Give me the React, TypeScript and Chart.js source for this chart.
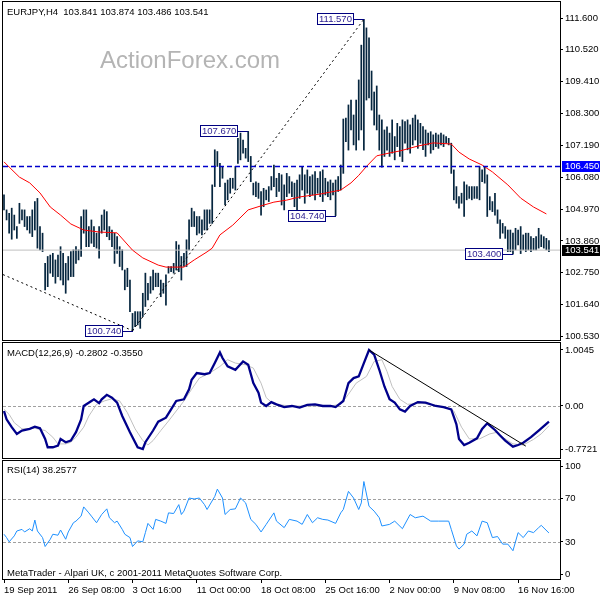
import React, { useEffect, useRef } from "react";
import { Chart, registerables } from "chart.js";

Chart.register(...registerables);

const FONT = '"Liberation Sans", Arial, sans-serif';
const FS = 9.5;

const titleText = "EURJPY,H4  103.841 103.874 103.486 103.541";
const macdTitle = "MACD(12,26,9) -0.2802 -0.3550";
const rsiTitle = "RSI(14) 38.2577";
const footerText = "MetaTrader - Alpari UK, c 2001-2011 MetaQuotes Software Corp.";
const watermark = "ActionForex.com";

const dateTickIdx = [0, 25, 50, 75, 100, 125, 150, 175, 200];
const dateLabels = ["19 Sep 2011", "26 Sep 08:00", "3 Oct 16:00", "11 Oct 00:00", "18 Oct 08:00", "25 Oct 16:00", "2 Nov 00:00", "9 Nov 08:00", "16 Nov 16:00"];

const priceTicks = [100.53, 101.64, 102.75, 103.86, 104.97, 106.08, 107.19, 108.3, 109.41, 110.52, 111.6];
const macdTicks = [-0.7721, 0, 1.0045];
const macdTickLabels = ["-0.7721", "0.00", "1.0045"];
const rsiTicks = [0, 30, 70, 100];
const rsiLevels = [30, 70];
const macdZero = 0;

const levelPrice = 106.45;
const bidPrice = 103.541;

const barHigh = [
  105.46, 104.94, 104.82, 105.0, 104.76, 104.36, 105.17, 104.94, 104.94, 104.71,
  104.71, 104.94, 105.23, 105.34, 104.36, 104.13, 103.08, 103.32, 103.37, 103.43,
  103.2, 103.37, 103.66, 103.43, 103.08, 103.32, 103.49, 103.55, 103.66, 103.55,
  104.71, 104.94, 104.94, 104.36, 104.59, 104.36, 104.13, 104.36, 104.76, 104.94,
  104.88, 104.36, 104.24, 104.13, 104.01, 103.66, 103.55, 102.85, 102.91, 102.5,
  101.34, 101.4, 101.4, 101.4, 102.04, 102.74, 102.39, 102.62, 102.85, 102.74,
  102.74, 102.5, 102.39, 102.68, 102.97, 102.97, 103.08, 103.84, 103.72, 103.32,
  103.43, 103.9, 104.59, 105.0, 104.88, 104.71, 104.71, 104.59, 104.94, 104.94,
  104.94, 105.81, 107.03, 106.97, 106.56, 106.45, 105.87, 105.98, 106.04, 106.04,
  106.45, 107.43, 107.61, 107.37, 107.08, 107.67, 106.8, 105.87, 105.92, 105.87,
  105.58, 105.69, 105.63, 105.75, 106.1, 106.5, 106.04, 106.21, 106.16, 105.81,
  106.21, 106.1, 105.92, 105.87, 105.98, 106.16, 106.45, 106.16, 106.33, 106.1,
  106.16, 106.27, 106.04, 106.27, 106.33, 106.04, 105.92, 105.98, 105.87, 105.98,
  106.1, 106.5, 108.1, 108.13, 108.59, 108.76, 108.24, 108.76, 109.46, 110.67,
  111.57, 111.27, 110.92, 109.77, 109.04, 109.25, 108.24, 108.07, 107.72, 107.83,
  107.61, 108.07, 107.49, 107.95, 107.84, 108.07, 108.01, 108.07, 107.9, 108.13,
  108.24, 108.07, 107.95, 107.84, 107.72, 107.61, 107.66, 107.55, 107.61, 107.55,
  107.61, 107.55, 107.49, 107.43, 107.26, 106.33, 105.75, 105.4, 105.52, 105.92,
  105.81, 105.75, 105.75, 105.75, 105.75, 106.45, 106.33, 106.45, 106.16, 105.4,
  105.23, 105.52, 104.94, 104.59, 104.47, 104.36, 104.24, 104.24, 104.13, 104.3,
  104.24, 104.36, 104.07, 104.13, 104.13, 104.01, 103.95, 104.01, 104.3, 104.07,
  104.01, 103.95, 103.874
];

const barLow = [
  104.94, 104.59, 104.13, 103.92, 104.24, 103.95, 104.47, 104.59, 104.36, 104.24,
  104.13, 104.01, 104.24, 103.61, 103.55, 103.49, 102.16, 102.27, 102.74, 102.62,
  102.39, 102.62, 102.5, 102.33, 102.04, 102.5, 102.62, 102.62, 103.08, 103.2,
  103.32, 104.13, 103.66, 103.66, 103.78, 103.66, 103.61, 103.26, 104.13, 104.24,
  104.01, 103.9, 103.66, 103.08, 103.43, 102.97, 102.85, 102.16, 102.27, 101.4,
  100.74, 100.88, 100.94, 100.82, 101.23, 101.58, 101.81, 102.04, 102.16, 102.27,
  102.27, 101.92, 102.04, 101.63, 102.74, 102.79, 102.74, 102.85, 102.79, 102.5,
  102.97, 102.97, 103.55, 104.36, 104.36, 104.07, 104.13, 104.07, 104.24, 104.24,
  104.47, 104.47, 105.75, 106.45, 105.75, 106.04, 105.11, 105.29, 105.52, 105.69,
  105.63, 106.56, 106.68, 106.91, 106.74, 106.62, 105.92, 105.46, 105.4, 105.34,
  104.76, 105.05, 105.29, 105.23, 105.63, 105.75, 105.4, 105.58, 105.11, 104.94,
  105.4, 105.52, 105.4, 105.05, 104.94, 105.34, 105.63, 105.17, 105.52, 105.4,
  105.46, 105.29, 105.52, 105.4, 105.23, 105.46, 105.4, 105.29, 105.46, 104.74,
  105.58, 105.63, 106.21, 107.31, 107.02, 107.72, 107.2, 107.02, 107.37, 107.72,
  107.02, 108.76, 108.83, 108.41, 107.89, 107.72, 107.02, 106.43, 106.8, 107.02,
  106.8, 106.91, 106.68, 107.14, 106.8, 106.62, 107.26, 107.03, 106.91, 107.2,
  107.37, 107.08, 107.26, 107.03, 106.8, 107.2, 106.91, 107.03, 107.14, 107.08,
  107.2, 107.14, 107.26, 107.2, 106.21, 105.29, 105.17, 105.0, 105.17, 104.71,
  105.29, 105.34, 105.29, 105.34, 105.34, 105.29, 105.92, 105.87, 104.71, 104.94,
  104.88, 104.76, 104.47, 103.95, 104.13, 103.95, 103.49, 103.49, 103.4, 103.55,
  103.72, 103.42, 103.55, 103.49, 103.55, 103.49, 103.55, 103.55, 103.61, 103.66,
  103.61, 103.55, 103.486
];

const maIdx = [0, 2, 6, 10, 14, 18, 22, 26, 31, 37, 44, 50, 54, 60, 63, 70, 74, 79, 81, 84, 89, 95, 100, 105, 110, 115, 123, 131, 135, 138, 141, 145, 150, 154, 161, 167, 174, 177, 181, 186, 190, 196, 201, 206, 211];
const maVal = [106.61, 106.43, 106.08, 105.88, 105.53, 105.04, 104.76, 104.45, 104.24, 104.17, 104.14, 103.54, 103.27, 103.02, 102.95, 102.95, 103.2, 103.48, 103.61, 104.07, 104.41, 104.94, 105.08, 105.21, 105.28, 105.39, 105.49, 105.63, 105.88, 106.14, 106.45, 106.82, 106.92, 106.99, 107.16, 107.27, 107.23, 106.95, 106.71, 106.5, 106.26, 105.81, 105.35, 105.04, 104.8];

const trendAIdx = [-0.39, 50];
const trendAVal = [102.69, 100.74];
const trendBIdx = [50, 140];
const trendBVal = [100.74, 111.57];

const labelIdx = [140, 95, 129, 50, 198];
const labelPrice = [111.57, 107.67, 104.74, 100.74, 103.4];

const macdIdx = [0, 1, 3, 5, 7, 10, 12, 14, 16, 17, 19, 21, 22, 24, 26, 28, 30, 31, 34, 35, 37, 38, 40, 42, 44, 46, 49, 52, 54, 55, 58, 60, 63, 65, 67, 70, 72, 73, 75, 78, 80, 82, 84, 85, 87, 90, 93, 95, 97, 99, 100, 102, 104, 106, 109, 112, 115, 118, 121, 124, 127, 129, 132, 134, 136, 138, 140, 142, 144, 146, 148, 150, 152, 154, 156, 158, 161, 164, 168, 171, 174, 176, 177, 179, 181, 184, 186, 188, 191, 193, 195, 198, 200, 202, 205, 208, 210, 212];
const macdVal = [-0.09, -0.24, -0.38, -0.5, -0.44, -0.41, -0.37, -0.4, -0.59, -0.74, -0.74, -0.71, -0.59, -0.65, -0.62, -0.47, -0.24, 0.0, 0.09, 0.12, 0.05, 0.12, 0.2, 0.15, 0.06, -0.18, -0.47, -0.74, -0.7721, -0.65, -0.44, -0.28, -0.21, -0.06, 0.09, 0.12, 0.3, 0.47, 0.59, 0.57, 0.59, 0.77, 0.96, 0.86, 0.71, 0.65, 0.8, 0.74, 0.41, 0.24, 0.06, 0.0, 0.07, 0.03, -0.02, 0.0, -0.03, 0.02, 0.03, 0.0, 0.0, -0.02, 0.09, 0.41, 0.5, 0.53, 0.77, 1.0045, 0.92, 0.65, 0.35, 0.12, 0.06, -0.06, -0.1, 0.0, 0.07, 0.06, 0.0, -0.02, -0.06, -0.33, -0.59, -0.7, -0.66, -0.58, -0.41, -0.31, -0.43, -0.53, -0.62, -0.73, -0.7, -0.66, -0.56, -0.44, -0.36, -0.2802];

const sigIdx = [0, 2, 4, 7, 12, 16, 19, 21, 24, 26, 28, 31, 33, 36, 39, 42, 45, 48, 51, 54, 56, 58, 61, 64, 67, 70, 73, 76, 80, 84, 87, 90, 94, 97, 100, 102, 105, 112, 127, 131, 134, 137, 141, 144, 147, 149, 151, 154, 157, 162, 166, 172, 175, 178, 181, 185, 189, 192, 194, 198, 202, 206, 209, 212];
const sigVal = [-0.06, -0.15, -0.3, -0.41, -0.4, -0.44, -0.56, -0.68, -0.68, -0.65, -0.56, -0.38, -0.18, 0.03, 0.09, 0.13, 0.09, -0.12, -0.41, -0.62, -0.7, -0.62, -0.44, -0.27, -0.09, 0.09, 0.3, 0.5, 0.59, 0.71, 0.83, 0.77, 0.74, 0.68, 0.41, 0.15, 0.03, 0.0, 0.0, 0.03, 0.21, 0.41, 0.53, 0.8, 0.83, 0.62, 0.35, 0.12, 0.03, 0.05, 0.03, -0.03, -0.09, -0.38, -0.59, -0.59, -0.5, -0.47, -0.56, -0.68, -0.7, -0.6, -0.5, -0.355];

const macdTrendIdx = [142, 203];
const macdTrendVal = [1.0045, -0.72];

const rsiIdx = [0, 1, 2, 4, 5, 7, 8, 10, 11, 12, 13, 15, 16, 18, 19, 21, 22, 24, 25, 27, 28, 30, 31, 33, 34, 36, 38, 40, 41, 43, 44, 46, 47, 49, 50, 52, 54, 55, 56, 58, 59, 61, 63, 64, 66, 68, 69, 70, 72, 74, 76, 78, 79, 82, 83, 85, 86, 88, 90, 92, 94, 96, 98, 100, 102, 105, 106, 109, 111, 114, 116, 118, 120, 122, 124, 126, 129, 131, 132, 134, 136, 138, 139, 140, 142, 144, 146, 147, 150, 152, 155, 158, 160, 163, 166, 169, 173, 174, 176, 177, 179, 180, 182, 184, 186, 188, 190, 192, 194, 196, 198, 200, 202, 204, 206, 208, 209, 212];
const rsiVal = [37.1, 34.0, 30.1, 35.6, 40.1, 41.6, 39.2, 42.2, 40.1, 50.2, 40.1, 34.0, 25.8, 32.5, 37.1, 36.2, 41.0, 32.5, 39.2, 47.7, 49.2, 53.8, 62.3, 56.8, 53.8, 47.7, 55.3, 60.5, 52.3, 47.7, 49.2, 41.6, 37.1, 34.0, 25.8, 31.0, 30.1, 38.6, 47.1, 41.6, 50.8, 49.2, 47.1, 56.8, 56.2, 64.4, 55.3, 58.4, 70.5, 69.6, 70.5, 64.4, 59.9, 72.0, 78.7, 70.5, 55.3, 59.9, 60.5, 70.5, 66.0, 50.8, 46.2, 39.2, 46.2, 56.8, 49.2, 43.2, 50.8, 49.2, 46.2, 55.3, 47.7, 52.3, 50.8, 50.2, 47.1, 56.8, 59.9, 76.6, 70.5, 59.9, 66.0, 85.7, 62.9, 58.4, 52.3, 44.7, 46.2, 49.2, 42.2, 55.3, 52.3, 53.8, 49.2, 49.2, 49.2, 41.6, 26.4, 23.4, 28.0, 37.1, 40.1, 35.6, 49.2, 47.7, 34.0, 35.0, 28.0, 28.0, 21.9, 38.6, 34.0, 40.1, 38.6, 43.2, 45.3, 38.26];

const X_MIN = -0.39;
const X_MAX = 216.3;

const pts = (xs: number[], ys: number[]) => xs.map((x, i) => ({ x, y: ys[i] }));

const zeroPad = (s: any) => {
  s.paddingTop = 0;
  s.paddingBottom = 0;
  s.paddingLeft = 0;
  s.paddingRight = 0;
};

const yAxis = (min: number, max: number, ticks: number[], fmt: (v: number, i: number) => string) => ({
  type: "linear",
  position: "right",
  min,
  max,
  afterFit: (s: any) => {
    s.width = 40;
    zeroPad(s);
  },
  afterBuildTicks: (s: any) => {
    s.ticks = ticks.map((v) => ({ value: v }));
  },
  ticks: {
    autoSkip: false,
    padding: 2,
    color: "#000",
    font: { family: FONT, size: FS },
    callback: (v: any, i: number) => fmt(Number(v), i),
  },
  grid: { drawOnChartArea: false, drawTicks: true, tickLength: 3, color: "#000" },
  border: { display: false },
});

const hiddenX = {
  type: "linear",
  min: X_MIN,
  max: X_MAX,
  offset: false,
  display: false,
};

const frame = (ctx: CanvasRenderingContext2D, a: any) => {
  ctx.save();
  ctx.strokeStyle = "#000";
  ctx.lineWidth = 1;
  ctx.strokeRect(a.left - 0.5, a.top - 0.5, a.right - a.left + 1, a.bottom - a.top + 1);
  ctx.restore();
};

const hLine = (chart: any, value: number, color: string, dash: number[]) => {
  const ctx = chart.ctx;
  const a = chart.chartArea;
  const y = Math.round(chart.scales.y.getPixelForValue(value)) + 0.5;
  ctx.save();
  ctx.strokeStyle = color;
  ctx.lineWidth = 1;
  ctx.setLineDash(dash);
  ctx.beginPath();
  ctx.moveTo(a.left, y);
  ctx.lineTo(a.right, y);
  ctx.stroke();
  ctx.restore();
};

const text = (ctx: CanvasRenderingContext2D, t: string, x: number, y: number) => {
  ctx.save();
  ctx.font = `${FS}px ${FONT}`;
  ctx.fillStyle = "#000";
  ctx.textBaseline = "middle";
  ctx.textAlign = "left";
  ctx.fillText(t, x, y);
  ctx.restore();
};

const baseOpts = {
  responsive: false,
  animation: false,
  events: [],
  plugins: { legend: { display: false }, tooltip: { enabled: false } },
};

export default function App() {
  const mainRef = useRef<HTMLCanvasElement>(null);
  const macdRef = useRef<HTMLCanvasElement>(null);
  const rsiRef = useRef<HTMLCanvasElement>(null);

  useEffect(() => {
    const charts: Chart[] = [];

    const mainPlugin = {
      id: "mainDeco",
      beforeDatasetsDraw(chart: any) {
        const ctx = chart.ctx;
        ctx.save();
        ctx.font = `24px ${FONT}`;
        ctx.fillStyle = "#B4B4B4";
        ctx.textBaseline = "alphabetic";
        ctx.fillText(watermark, 100, 68);
        ctx.restore();
      },
      afterDatasetsDraw(chart: any) {
        const ctx = chart.ctx;
        const xs = chart.scales.x;
        const ys = chart.scales.y;
        ctx.save();
        ctx.font = `${FS}px ${FONT}`;
        labelIdx.forEach((idx, k) => {
          const px = Math.round(xs.getPixelForValue(idx));
          const py = Math.round(ys.getPixelForValue(labelPrice[k]));
          const t = labelPrice[k].toFixed(3);
          const tw = ctx.measureText(t).width;
          const right = px - 10;
          const left = right - Math.round(tw + 4);
          const top = py - 6;
          ctx.fillStyle = "#fff";
          ctx.fillRect(left, top, right - left, 12);
          ctx.strokeStyle = "#000080";
          ctx.lineWidth = 1;
          ctx.strokeRect(left + 0.5, top + 0.5, right - left - 1, 11);
          ctx.beginPath();
          ctx.moveTo(right, py + 0.5);
          ctx.lineTo(px, py + 0.5);
          ctx.stroke();
          ctx.fillStyle = "#2A1C8F";
          ctx.textBaseline = "middle";
          ctx.fillText(t, left + 2, top + 6.5);
        });
        ctx.restore();
      },
      afterDraw(chart: any) {
        const ctx = chart.ctx;
        const a = chart.chartArea;
        frame(ctx, a);
        text(ctx, titleText, 7, 12);
        const badge = (v: number, bg: string) => {
          const y = Math.round(chart.scales.y.getPixelForValue(v));
          ctx.save();
          ctx.fillStyle = bg;
          ctx.fillRect(a.right + 2, y - 5, 38, 11);
          ctx.font = `${FS}px ${FONT}`;
          ctx.fillStyle = "#fff";
          ctx.textBaseline = "middle";
          ctx.fillText(v.toFixed(3), a.right + 5, y + 0.5);
          ctx.restore();
        };
        badge(levelPrice, "#0000FF");
        badge(bidPrice, "#000");
      },
    };

    charts.push(
      new Chart(mainRef.current as HTMLCanvasElement, {
        type: "bar",
        data: {
          datasets: [
            { type: "line", data: pts(trendAIdx, trendAVal), borderColor: "#000", borderWidth: 1, borderDash: [2, 3], pointRadius: 0, order: 0 },
            { type: "line", data: pts(trendBIdx, trendBVal), borderColor: "#000", borderWidth: 1, borderDash: [2, 3], pointRadius: 0, order: 0 },
            { type: "line", data: pts([X_MIN, X_MAX], [levelPrice, levelPrice]), borderColor: "#0000CC", borderWidth: 1.5, borderDash: [5, 3], pointRadius: 0, order: 1 },
            { type: "line", data: pts(maIdx, maVal), borderColor: "#FF0000", borderWidth: 1, pointRadius: 0, tension: 0, order: 2 },
            { type: "line", data: pts([X_MIN, X_MAX], [bidPrice, bidPrice]), borderColor: "#C0C0C0", borderWidth: 1, pointRadius: 0, order: 3 },
            {
              type: "bar",
              data: barHigh.map((h, i) => ({ x: i, y: [barLow[i], h] })),
              backgroundColor: "#06263F",
              borderWidth: 0,
              barThickness: 1.05,
              order: 4,
            },
          ],
        },
        options: {
          ...baseOpts,
          layout: { padding: { left: 3, top: 2, right: 0, bottom: 1 } },
          scales: {
            x: hiddenX,
            y: yAxis(100.415, 112.17, priceTicks, (v) => v.toFixed(3)),
          },
        } as any,
        plugins: [mainPlugin],
      } as any)
    );

    const macdPlugin = {
      id: "macdDeco",
      beforeDatasetsDraw(chart: any) {
        hLine(chart, macdZero, "#A0A0A0", [3, 2]);
      },
      afterDraw(chart: any) {
        frame(chart.ctx, chart.chartArea);
        text(chart.ctx, macdTitle, 7, 12);
      },
    };

    charts.push(
      new Chart(macdRef.current as HTMLCanvasElement, {
        type: "line",
        data: {
          datasets: [
            { data: pts(macdTrendIdx, macdTrendVal), borderColor: "#000", borderWidth: 1, pointRadius: 0, order: 0 },
            { data: pts(macdIdx, macdVal), borderColor: "#00008B", borderWidth: 2.3, pointRadius: 0, tension: 0, order: 1 },
            { data: pts(sigIdx, sigVal), borderColor: "#C0C0C0", borderWidth: 1, pointRadius: 0, tension: 0, order: 2 },
          ],
        },
        options: {
          ...baseOpts,
          layout: { padding: { left: 3, top: 2, right: 0, bottom: 2 } },
          scales: {
            x: hiddenX,
            y: yAxis(-0.933, 1.13, macdTicks, (_v, i) => macdTickLabels[i]),
          },
        } as any,
        plugins: [macdPlugin],
      } as any)
    );

    const rsiPlugin = {
      id: "rsiDeco",
      beforeDatasetsDraw(chart: any) {
        rsiLevels.forEach((lv) => hLine(chart, lv, "#A0A0A0", [3, 2]));
      },
      afterDraw(chart: any) {
        frame(chart.ctx, chart.chartArea);
        text(chart.ctx, rsiTitle, 7, 10);
        text(chart.ctx, footerText, 7, 113);
      },
    };

    charts.push(
      new Chart(rsiRef.current as HTMLCanvasElement, {
        type: "line",
        data: {
          datasets: [
            { data: pts(rsiIdx, rsiVal), borderColor: "#1E90FF", borderWidth: 1, pointRadius: 0, tension: 0 },
          ],
        },
        options: {
          ...baseOpts,
          layout: { padding: { left: 3, top: 1, right: 0, bottom: 0 } },
          scales: {
            x: {
              type: "linear",
              position: "bottom",
              min: X_MIN,
              max: X_MAX,
              offset: false,
              afterFit: (s: any) => {
                s.height = 21;
                zeroPad(s);
              },
              afterBuildTicks: (s: any) => {
                s.ticks = dateTickIdx.map((v) => ({ value: v }));
              },
              ticks: {
                autoSkip: false,
                maxRotation: 0,
                minRotation: 0,
                align: "start",
                padding: 2,
                color: "#000",
                font: { family: FONT, size: FS },
                callback: (_v: any, i: number) => dateLabels[i],
              },
              grid: { drawOnChartArea: false, drawTicks: true, tickLength: 4, color: "#000" },
              border: { display: false },
            },
            y: yAxis(-4.15, 104.61, rsiTicks, (v) => String(v)),
          },
        } as any,
        plugins: [rsiPlugin],
      } as any)
    );

    return () => charts.forEach((c) => c.destroy());
  }, []);

  const cv = (top: number, h: number): React.CSSProperties => ({
    position: "absolute",
    left: 0,
    top,
    width: 600,
    height: h,
    display: "block",
  });

  return (
    <div style={{ position: "fixed", left: 0, top: 0, width: 600, height: 600, background: "#fff", overflow: "hidden" }}>
      <canvas ref={mainRef} width={600} height={341} style={cv(0, 341)} />
      <canvas ref={macdRef} width={600} height={119} style={cv(341, 119)} />
      <canvas ref={rsiRef} width={600} height={140} style={cv(460, 140)} />
    </div>
  );
}
